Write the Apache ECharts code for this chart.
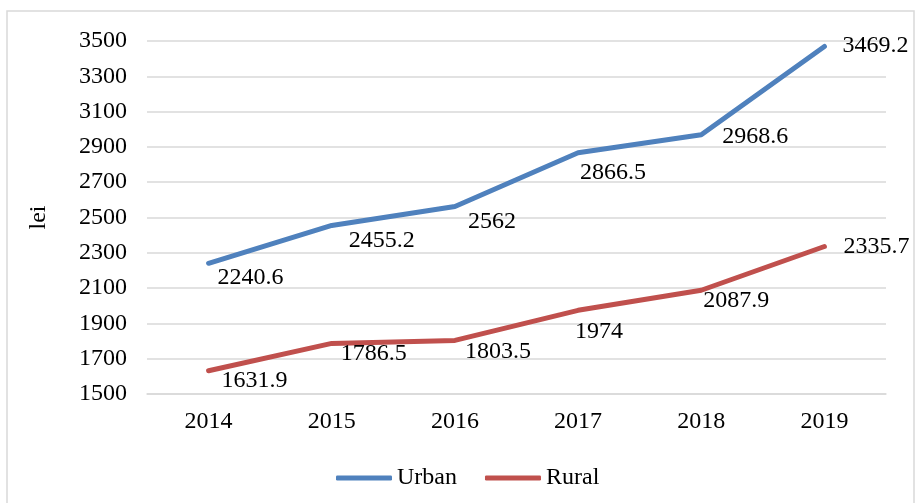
<!DOCTYPE html>
<html>
<head>
<meta charset="utf-8">
<script src="https://cdn.jsdelivr.net/npm/echarts@6/dist/echarts.min.js"></script>
<style>
  html, body { margin: 0; padding: 0; background: #fff; }
  #chart { width: 915px; height: 503px; }
</style>
</head>
<body>
<div id="chart"></div>
<script>
const years = ['2014', '2015', '2016', '2017', '2018', '2019'];
const urban = [2240.6, 2455.2, 2562, 2866.5, 2968.6, 3469.2];
const rural = [1631.9, 1786.5, 1803.5, 1974, 2087.9, 2335.7];
// label nudges (dx, dy) so the numbers sit where the original has them
const urbanOffsets = [[8, 14], [16, 15], [12, 15], [1, 20], [20, 2], [17, -1]];
const ruralOffsets = [[12, 10], [8, 10], [9, 11], [-4, 21], [1, 10], [18, 0]];

const font = '"Liberation Serif", "Times New Roman", serif';

function withLabels (values, offsets) {
  return values.map((v, i) => ({
    value: v,
    label: { offset: offsets[i] }
  }));
}

function lineSeries (name, color, values, offsets) {
  return {
    name: name,
    type: 'line',
    data: withLabels(values, offsets),
    symbol: 'circle',
    symbolSize: 2,
    showSymbol: true,
    itemStyle: { color: color },
    lineStyle: { color: color, width: 5, cap: 'round', join: 'round' },
    label: {
      show: true,
      position: 'right',
      distance: 0,
      align: 'left',
      color: '#000',
      fontFamily: font,
      fontSize: 24
    },
    emphasis: { disabled: true },
    animation: false
  };
}

const myChart = echarts.init(document.getElementById('chart'));
const option = {
  backgroundColor: '#fff',
  textStyle: { fontFamily: font },
  graphic: [{
    type: 'rect',
    shape: { x: 7, y: 11, width: 907, height: 500 },
    style: { fill: 'none', stroke: '#d9d9d9', lineWidth: 1.5 },
    silent: true
  }],
  grid: { left: 147, right: 29, top: 41, bottom: 109 },
  legend: {
    bottom: 13,
    left: 336,
    padding: 0,
    itemWidth: 56,
    itemHeight: 5,
    itemGap: 28,
    icon: 'roundRect',
    textStyle: { fontFamily: font, fontSize: 24, color: '#000' },
    data: ['Urban', 'Rural']
  },
  xAxis: {
    type: 'category',
    data: years,
    boundaryGap: true,
    axisLine: { show: true, lineStyle: { color: '#d9d9d9', width: 1.5 } },
    axisTick: { show: false },
    axisLabel: { color: '#000', fontFamily: font, fontSize: 24, margin: 16 }
  },
  yAxis: {
    type: 'value',
    min: 1500,
    max: 3500,
    interval: 200,
    name: 'lei',
    nameLocation: 'middle',
    nameGap: 96,
    nameRotate: 90,
    nameTextStyle: { color: '#000', fontFamily: font, fontSize: 24 },
    axisLine: { show: false },
    axisTick: { show: false },
    axisLabel: {
      color: '#000',
      fontFamily: font,
      fontSize: 24,
      margin: 20,
      formatter: (v) => String(v)
    },
    splitLine: { lineStyle: { color: '#d9d9d9', width: 1.5 } }
  },
  series: [
    lineSeries('Urban', '#4f81bd', urban, urbanOffsets),
    lineSeries('Rural', '#c0504d', rural, ruralOffsets)
  ]
};
myChart.setOption(option);
</script>
</body>
</html>
